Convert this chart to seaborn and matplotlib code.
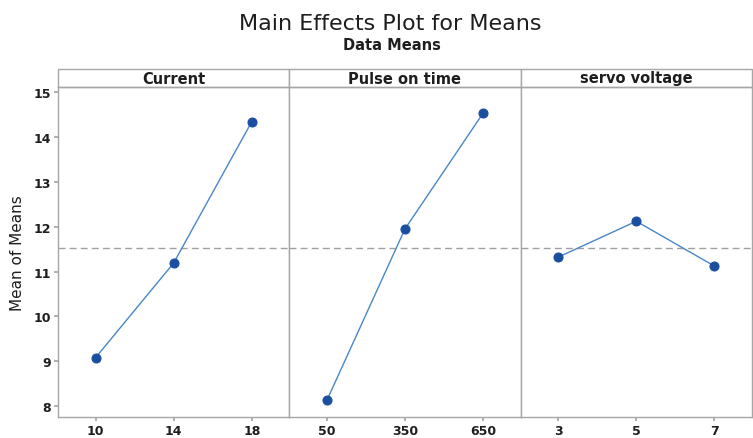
import matplotlib
matplotlib.use("Agg")
import matplotlib.pyplot as plt
from matplotlib.patches import Rectangle
import seaborn as sns
import pandas as pd

factors = ["Current", "Pulse on time", "servo voltage"]
current_levels = ["10", "14", "18"]
current_means = [9.08, 11.19, 14.34]
pulse_levels = ["50", "350", "650"]
pulse_means = [8.13, 11.95, 14.53]
servo_levels = ["3", "5", "7"]
servo_means = [11.32, 12.12, 11.12]
grand_mean = 11.52
y_ticks = [8, 9, 10, 11, 12, 13, 14, 15]

sns.set_theme(style="white")
plt.rcParams["font.family"] = ["DejaVu Sans"]

levels_all = [current_levels, pulse_levels, servo_levels]
means_all = [current_means, pulse_means, servo_means]

fig = plt.figure(figsize=(7.53, 4.39), dpi=100)
left, right = 58 / 753, 752 / 753
bottom, top = 1 - 418 / 439, 1 - 88 / 439
w = (right - left) / 3
frame_col = "#a6a6a6"
line_col = "#4a86c8"
mark_col = "#1a4fa0"
txt_col = "#1e1e1e"
axes = []
for i in range(3):
    ax = fig.add_axes([left + i * w, bottom, w, top - bottom],
                      sharey=axes[0] if axes else None)
    axes.append(ax)
    df = pd.DataFrame({"level": levels_all[i], "mean": means_all[i]})
    sns.pointplot(data=df, x="level", y="mean", order=levels_all[i], ax=ax,
                  color=mark_col, markers="o", markersize=6.5, linewidth=1.0)
    for ln in ax.lines:
        ln.set_color(line_col)
        ln.set_markerfacecolor(mark_col)
        ln.set_markeredgecolor(mark_col)
    ax.axhline(grand_mean, color="#a0a0a0", linestyle=(0, (5, 3)), linewidth=1.0, zorder=0)
    ax.set_xlim(-0.48, 2.48)
    ax.set_ylim(7.76, 15.11)
    ax.set_xlabel("")
    ax.set_ylabel("")
    for s in ax.spines.values():
        s.set_color(frame_col)
        s.set_linewidth(1.0)
    ax.tick_params(axis="x", bottom=True, length=3, color=frame_col,
                   labelsize=9, labelcolor=txt_col, pad=2)
    if i == 0:
        ax.set_yticks(y_ticks)
        ax.tick_params(axis="y", left=True, length=3, color=frame_col,
                       labelsize=9, labelcolor=txt_col, pad=2)
        ax.set_ylabel("Mean of Means", fontsize=11, color=txt_col, labelpad=6)
    else:
        ax.tick_params(axis="y", left=False, labelleft=False)
    for t in ax.get_xticklabels() + ax.get_yticklabels():
        t.set_fontweight("bold")
    sh = 18 / 330
    ax.add_patch(Rectangle((0, 1), 1, sh, transform=ax.transAxes, facecolor="white",
                           edgecolor=frame_col, linewidth=1.0, clip_on=False))
    ax.text(0.5, 1 + sh / 2, factors[i], transform=ax.transAxes, ha="center",
            va="center", fontsize=10.5, fontweight="bold", color=txt_col)

fig.text(390 / 753, 1 - 24 / 439, "Main Effects Plot for Means", ha="center", va="center",
         fontsize=16, color=txt_col)
fig.text(392 / 753, 1 - 46 / 439, "Data Means", ha="center", va="center",
         fontsize=10.5, fontweight="bold", color=txt_col)

fig.savefig("out.png", dpi=100)
